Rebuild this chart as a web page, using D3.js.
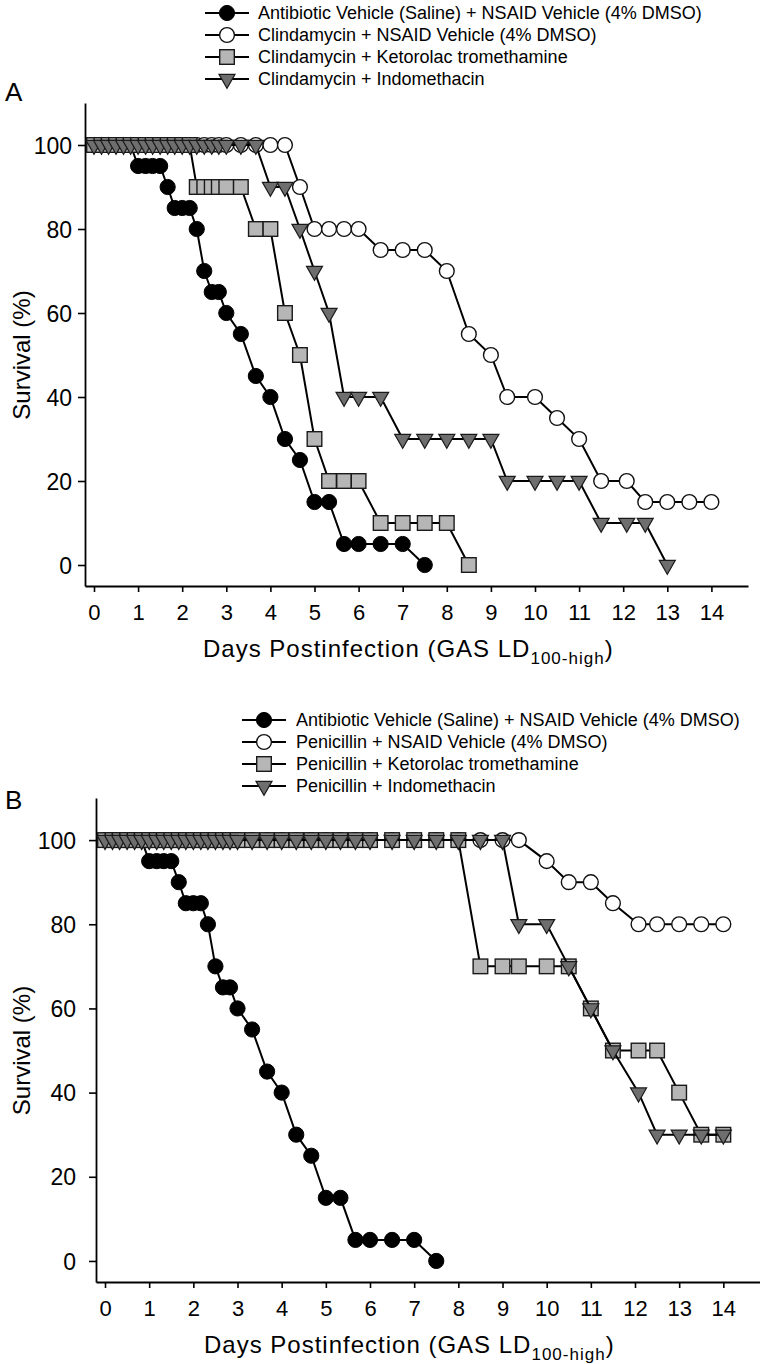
<!DOCTYPE html>
<html><head><meta charset="utf-8">
<script src="https://cdn.jsdelivr.net/npm/d3@7"></script>
<style>
body{margin:0;background:#fff}
svg{display:block}
text{font-family:"Liberation Sans",Arial,Helvetica,sans-serif;fill:#000}
</style>
</head><body>
<svg id="chart" width="760" height="1364"></svg>
<script>
// ---------- DATA ----------
const days = [0,0.17,0.33,0.5,0.67,0.83,1,1.17,1.33,1.5,1.67,1.83,2,2.17,2.33,2.5,2.67,2.83,3,3.33,3.67,4,4.33,4.67,5,5.33,5.67,6,6.5,7,7.5,8,8.5,9,9.37,10,10.5,11,11.5,12.08,12.5,13,13.5,14];

const antibioticVehicle = [100,100,100,100,100,100,95,95,95,95,90,85,85,85,80,70,65,65,60,55,45,40,30,25,15,15,5,5,5,5,0];

const clindaNsaidVehicle = [100,100,100,100,100,100,100,100,100,100,100,100,100,100,100,100,100,100,100,100,100,100,100,90,80,80,80,80,75,75,75,70,55,50,40,40,35,30,20,20,15,15,15,15];
const clindaKetorolac = [100,100,100,100,100,100,100,100,100,100,100,100,100,100,90,90,90,90,90,90,80,80,60,50,30,20,20,20,10,10,10,10,0];
const clindaIndomethacin = [100,100,100,100,100,100,100,100,100,100,100,100,100,100,100,100,100,100,100,100,100,90,90,80,70,60,40,40,40,30,30,30,30,30,20,20,20,20,10,10,10,0];

const peniNsaidVehicle = [100,100,100,100,100,100,100,100,100,100,100,100,100,100,100,100,100,100,100,100,100,100,100,100,100,100,100,100,100,100,100,100,100,100,100,95,90,90,85,80,80,80,80,80];
const peniKetorolac = [100,100,100,100,100,100,100,100,100,100,100,100,100,100,100,100,100,100,100,100,100,100,100,100,100,100,100,100,100,100,100,100,70,70,70,70,70,60,50,50,50,40,30,30];
const peniIndomethacin = [100,100,100,100,100,100,100,100,100,100,100,100,100,100,100,100,100,100,100,100,100,100,100,100,100,100,100,100,100,100,100,100,100,100,80,80,70,60,50,40,30,30,30,30];

const legendA = ["Antibiotic Vehicle (Saline) + NSAID Vehicle (4% DMSO)","Clindamycin + NSAID Vehicle (4% DMSO)","Clindamycin + Ketorolac tromethamine","Clindamycin + Indomethacin"];
const legendB = ["Antibiotic Vehicle (Saline) + NSAID Vehicle (4% DMSO)","Penicillin + NSAID Vehicle (4% DMSO)","Penicillin + Ketorolac tromethamine","Penicillin + Indomethacin"];

const markerTypes = ["filledCircle","openCircle","square","triangle"];
const xTicks = [0,1,2,3,4,5,6,7,8,9,10,11,12,13,14];
const yTicks = [0,20,40,60,80,100];
const xTitleMain = "Days Postinfection (GAS LD";
const xTitleSub = "100-high";
const yTitle = "Survival (%)";

// ---------- DRAWING ----------
const svg = d3.select("#chart");

function drawMarker(g, type, cx, cy) {
  if (type === "filledCircle") {
    g.append("circle").attr("cx", cx).attr("cy", cy).attr("r", 7.6)
      .attr("fill", "#000").attr("stroke", "#000").attr("stroke-width", 1);
  } else if (type === "openCircle") {
    g.append("circle").attr("cx", cx).attr("cy", cy).attr("r", 7.4)
      .attr("fill", "#fff").attr("stroke", "#111").attr("stroke-width", 1.4);
  } else if (type === "square") {
    g.append("rect").attr("x", cx - 7.3).attr("y", cy - 7.3).attr("width", 14.6).attr("height", 14.6)
      .attr("fill", "#b6b6b6").attr("stroke", "#1a1a1a").attr("stroke-width", 1.4);
  } else {
    const w = 16, h = 14;
    g.append("path")
      .attr("d", `M${cx - w/2},${cy - h/3}L${cx + w/2},${cy - h/3}L${cx},${cy + 2*h/3}Z`)
      .attr("fill", "#6e6e6e").attr("stroke", "#1a1a1a").attr("stroke-width", 1.2)
      .attr("stroke-linejoin", "miter");
  }
}

function drawPanel(p) {
  const g = svg.append("g");
  const x = d3.scaleLinear().domain([-0.204, 14.83]).range([p.left, p.right]);
  const y = d3.scaleLinear().domain([-5, 110]).range([p.bottom, p.top]);

  // axes
  const xa = g.append("g").attr("transform", `translate(0,${p.bottom})`)
    .call(d3.axisBottom(x).tickValues(xTicks).tickSize(6).tickSizeOuter(0).tickFormat(d3.format("d")));
  xa.select(".domain").attr("stroke", "#000").attr("stroke-width", 1.8);
  xa.selectAll(".tick line").attr("stroke", "#000").attr("stroke-width", 1.6);
  xa.selectAll(".tick text").attr("y", 34).attr("dy", null)
    .style("font-size", "22px").style("font-family", '"Liberation Sans",Arial,sans-serif').attr("fill", "#000");

  const ya = g.append("g").attr("transform", `translate(${p.left},0)`)
    .call(d3.axisLeft(y).tickValues(yTicks).tickSize(7).tickSizeOuter(0).tickPadding(p.yPad));
  ya.select(".domain").attr("stroke", "#000").attr("stroke-width", 1.8);
  ya.selectAll(".tick line").attr("stroke", "#000").attr("stroke-width", 1.6);
  ya.selectAll(".tick text").attr("dy", "0.35em")
    .style("font-size", "23px").style("font-family", '"Liberation Sans",Arial,sans-serif').attr("fill", "#000");

  // axis titles
  const xt = g.append("text").attr("x", p.titleX).attr("y", p.bottom + 71)
    .style("font-size", "24px").style("letter-spacing", "1px");
  xt.append("tspan").text(xTitleMain);
  xt.append("tspan").attr("dy", 7).style("font-size", "17px").text(xTitleSub);
  xt.append("tspan").attr("dy", -7).text(")");

  g.append("text").attr("transform", `translate(30,${(y(0) + y(100)) / 2}) rotate(-90)`)
    .attr("text-anchor", "middle").style("font-size", "24px").text(yTitle);

  // panel letter
  g.append("text").attr("x", 5).attr("y", p.letterY).style("font-size", "26px").text(p.letter);

  // series
  const line = d3.line().x(d => x(d.day)).y(d => y(d.v));
  p.series.forEach((vals, si) => {
    const pts = vals.map((v, i) => ({day: days[i], v}));
    const sg = g.append("g");
    sg.append("path").datum(pts).attr("d", line)
      .attr("fill", "none").attr("stroke", "#000").attr("stroke-width", 2);
    pts.forEach(d => drawMarker(sg, markerTypes[si], x(d.day), y(d.v)));
  });

  // legend
  p.legend.forEach((label, i) => {
    const ly = p.legendY + i * 22;
    const lg = g.append("g");
    lg.append("line").attr("x1", p.legX1).attr("x2", p.legX2).attr("y1", ly).attr("y2", ly)
      .attr("stroke", "#000").attr("stroke-width", 2);
    drawMarker(lg, markerTypes[i], (p.legX1 + p.legX2) / 2, ly);
    lg.append("text").attr("x", p.legTextX).attr("y", ly).attr("dy", "0.35em")
      .style("font-size", "18px").text(label);
  });
}

drawPanel({
  left: 85, right: 748, top: 103, bottom: 586, yPad: 6,
  titleX: 203, letter: "A", letterY: 101,
  series: [antibioticVehicle, clindaNsaidVehicle, clindaKetorolac, clindaIndomethacin],
  legend: legendA, legendY: 13, legX1: 205, legX2: 249, legTextX: 258
});

drawPanel({
  left: 96, right: 760, top: 798, bottom: 1282, yPad: 13,
  titleX: 204, letter: "B", letterY: 809,
  series: [antibioticVehicle, peniNsaidVehicle, peniKetorolac, peniIndomethacin],
  legend: legendB, legendY: 720, legX1: 242, legX2: 286, legTextX: 296
});
</script>
</body></html>
